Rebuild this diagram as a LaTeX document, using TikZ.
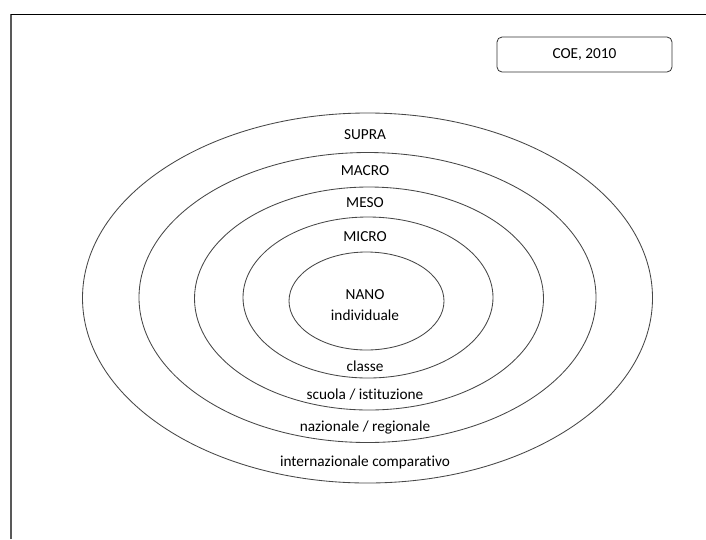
\documentclass[tikz,border=0pt]{standalone}
\usepackage{fontspec}
\setmainfont{Carlito}[Ligatures={NoCommon}]
\usetikzlibrary{shapes.geometric}
\begin{document}
\begin{tikzpicture}[x=1pt,y=-1pt,
  ring/.style={draw=black!72,line width=0.85pt,ellipse,inner sep=0pt},
  lbl/.style={font=\fontsize{15.3}{17}\selectfont,inner sep=0pt,text=black},
  refbox/.style={draw=black!80,line width=0.8pt,rounded corners=5pt,
    minimum width=175pt,minimum height=35pt,inner sep=0pt,
    font=\fontsize{15.3}{17}\selectfont}]
  \useasboundingbox (0,0) rectangle (706,539);
  % page frame: top and left edges
  \coordinate (fbl) at (11,539);
  \coordinate (ftl) at (11,14);
  \coordinate (ftr) at (706,14);
  \draw[black!65,line width=1.3pt] (fbl) -- (ftl);
  \draw[black,line width=1pt] (ftl) -- (ftr);
  % concentric levels
  \node[ring,minimum width=570pt,minimum height=370pt] (supra) at (367.5,298) {};
  \node[ring,minimum width=457pt,minimum height=290pt] (macro) at (367.5,297.5) {};
  \node[ring,minimum width=349pt,minimum height=223pt] (meso) at (369,298.5) {};
  \node[ring,minimum width=250pt,minimum height=161pt] (micro) at (368,297.5) {};
  \node[ring,minimum width=155pt,minimum height=98pt] (nano) at (366.5,301) {};
  % level names
  \node[lbl] (tsupra) at (365,135) {SUPRA};
  \node[lbl] (tmacro) at (365,171) {MACRO};
  \node[lbl] (tmeso) at (365,203) {MESO};
  \node[lbl] (tmicro) at (365,237) {MICRO};
  \node[lbl] (tnano) at (365,295) {NANO};
  % level scopes
  \node[lbl] (tind) at (365,315) {individuale};
  \node[lbl] (tcls) at (365,366) {classe};
  \node[lbl] (tsch) at (365,395) {scuola / istituzione};
  \node[lbl] (tnaz) at (365,427) {nazionale / regionale};
  \node[lbl] (tint) at (365,462) {internazionale comparativo};
  % source
  \node[refbox] (coe) at (584.5,54.5) {COE, 2010};
\end{tikzpicture}
\end{document}
